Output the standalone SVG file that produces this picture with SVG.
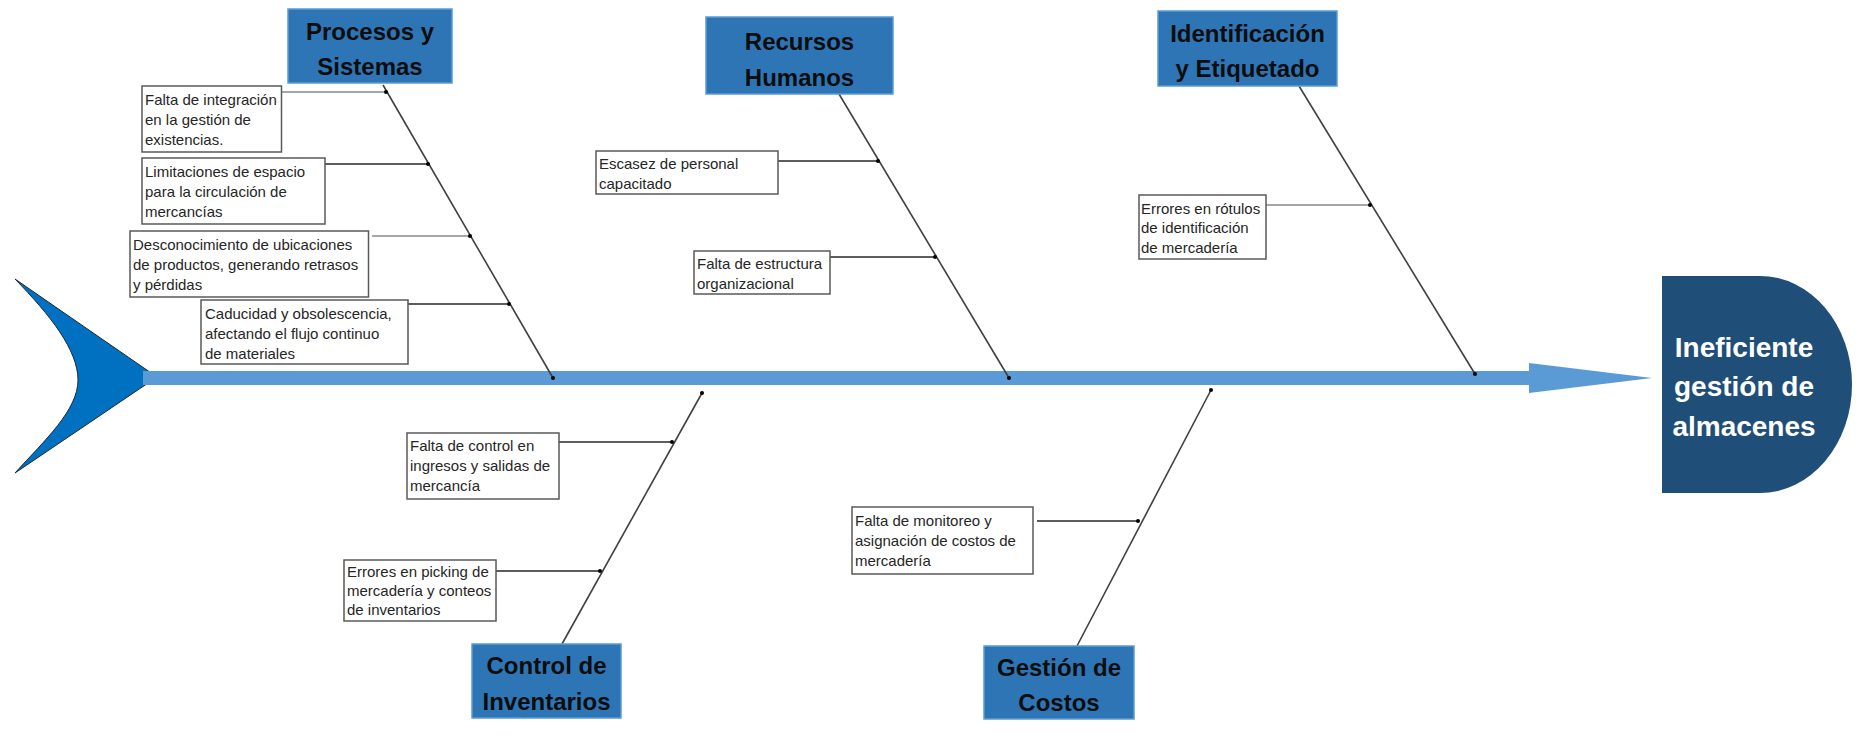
<svg xmlns="http://www.w3.org/2000/svg" width="1856" height="744" viewBox="0 0 1856 744">
<style>
.cat{fill:#2E75B6;stroke:#5B9BD5;stroke-width:1.5}
.cat-t{font-family:"Liberation Sans",Arial,sans-serif;font-weight:bold;font-size:24px;fill:#0d0d0d;text-anchor:middle}
.sub{fill:#ffffff;stroke:#595959;stroke-width:1.5}
.sub-t{font-family:"Liberation Sans",Arial,sans-serif;font-size:15px;fill:#262626}
.bone{stroke:#404040;stroke-width:1.6;fill:none}
.lnk{stroke:#262626;stroke-width:1.6;fill:none;marker-end:url(#dot)}
.lnk-g{stroke:#a6a6a6;stroke-width:2;fill:none;marker-end:url(#dot)}
.head-t{font-family:"Liberation Sans",Arial,sans-serif;font-weight:bold;font-size:28px;fill:#ffffff;text-anchor:middle}
</style>
<defs>
<marker id="dot" viewBox="0 0 6 6" refX="3" refY="3" markerWidth="4" markerHeight="4" markerUnits="userSpaceOnUse"><circle cx="3" cy="3" r="3" fill="#000"/></marker>
</defs>
<rect width="1856" height="744" fill="#ffffff"/>

<g id="tail">
<path d="M15,279 L157,377 L15,473 C45,440 78,410 78,380 C78,350 50,315 15,279 Z" fill="#0070C0" stroke="#1a2a3a" stroke-width="1"/>
</g>

<g id="spine">
<rect x="143" y="371" width="1388" height="14" fill="#5B9BD5"/>
<polygon points="1529,363 1652,378 1529,393" fill="#5B9BD5"/>
</g>

<g id="head">
<path d="M1662,276 H1760 A92,108.5 0 0 1 1760,493 H1662 Z" fill="#1F4E79"/>
<text class="head-t" x="1744" y="357">Ineficiente</text>
<text class="head-t" x="1744" y="396">gestión de</text>
<text class="head-t" x="1744" y="436">almacenes</text>
</g>

<g id="connectors">
<line class="bone" x1="383" y1="85" x2="553" y2="378" marker-end="url(#dot)"/>
<line class="bone" x1="839" y1="94" x2="1009" y2="378" marker-end="url(#dot)"/>
<line class="bone" x1="1299" y1="86" x2="1475" y2="374" marker-end="url(#dot)"/>
<line class="bone" x1="562" y1="644" x2="702" y2="393" marker-end="url(#dot)"/>
<line class="bone" x1="1077" y1="646" x2="1211" y2="390" marker-end="url(#dot)"/>

<line class="lnk-g" x1="282" y1="92" x2="386" y2="92"/>
<line class="lnk" x1="325" y1="164" x2="428" y2="164"/>
<line class="lnk-g" x1="372" y1="236" x2="470" y2="236"/>
<line class="lnk" x1="408" y1="304" x2="509" y2="304"/>
<line class="lnk" x1="778" y1="161" x2="878" y2="161"/>
<line class="lnk" x1="830" y1="257" x2="935" y2="257"/>
<line class="lnk-g" x1="1266" y1="205" x2="1370" y2="205"/>
<line class="lnk" x1="557" y1="442" x2="672" y2="442"/>
<line class="lnk" x1="496" y1="571" x2="600" y2="571"/>
<line class="lnk" x1="1037" y1="521" x2="1138" y2="521"/>
</g>

<g id="cat-procesos">
<rect class="cat" x="288" y="9" width="164" height="74"/>
<text class="cat-t" x="370" y="40">Procesos y</text>
<text class="cat-t" x="370" y="75">Sistemas</text>
</g>
<g id="cat-recursos">
<rect class="cat" x="706" y="17" width="187" height="77"/>
<text class="cat-t" x="799.5" y="50">Recursos</text>
<text class="cat-t" x="799.5" y="86">Humanos</text>
</g>
<g id="cat-identificacion">
<rect class="cat" x="1158" y="11" width="179" height="75"/>
<text class="cat-t" x="1247.5" y="42">Identificación</text>
<text class="cat-t" x="1247.5" y="77">y Etiquetado</text>
</g>
<g id="cat-control">
<rect class="cat" x="472" y="644" width="149" height="74"/>
<text class="cat-t" x="546.5" y="674">Control de</text>
<text class="cat-t" x="546.5" y="710">Inventarios</text>
</g>
<g id="cat-costos">
<rect class="cat" x="984" y="646" width="150" height="73"/>
<text class="cat-t" x="1059" y="676">Gestión de</text>
<text class="cat-t" x="1059" y="711">Costos</text>
</g>

<g id="c1">
<rect class="sub" x="142" y="86" width="139.5" height="66"/>
<text class="sub-t" x="145" y="104.5">Falta de integración</text>
<text class="sub-t" x="145" y="124.5">en la gestión de</text>
<text class="sub-t" x="145" y="144.5">existencias.</text>
</g>
<g id="c2">
<rect class="sub" x="142" y="158" width="183" height="66"/>
<text class="sub-t" x="145" y="176.5">Limitaciones de espacio</text>
<text class="sub-t" x="145" y="196.5">para la circulación de</text>
<text class="sub-t" x="145" y="216.5">mercancías</text>
</g>
<g id="c3">
<rect class="sub" x="130" y="231" width="238.5" height="66"/>
<text class="sub-t" x="133" y="249.5">Desconocimiento de ubicaciones</text>
<text class="sub-t" x="133" y="269.5">de productos, generando retrasos</text>
<text class="sub-t" x="133" y="289.5">y pérdidas</text>
</g>
<g id="c4">
<rect class="sub" x="201" y="300" width="207" height="64"/>
<text class="sub-t" x="205" y="318.5">Caducidad y obsolescencia,</text>
<text class="sub-t" x="205" y="338.5">afectando el flujo continuo</text>
<text class="sub-t" x="205" y="358.5">de materiales</text>
</g>
<g id="c5">
<rect class="sub" x="596" y="151" width="182" height="43"/>
<text class="sub-t" x="599" y="169">Escasez de personal</text>
<text class="sub-t" x="599" y="189">capacitado</text>
</g>
<g id="c6">
<rect class="sub" x="694" y="251" width="136" height="43"/>
<text class="sub-t" x="697" y="269">Falta de estructura</text>
<text class="sub-t" x="697" y="289">organizacional</text>
</g>
<g id="c7">
<rect class="sub" x="1139" y="195" width="127" height="64"/>
<text class="sub-t" x="1141" y="213.5">Errores en rótulos</text>
<text class="sub-t" x="1141" y="233">de identificación</text>
<text class="sub-t" x="1141" y="252.5">de mercadería</text>
</g>
<g id="c8">
<rect class="sub" x="407" y="433" width="152" height="66"/>
<text class="sub-t" x="410" y="451">Falta de control en</text>
<text class="sub-t" x="410" y="471">ingresos y salidas de</text>
<text class="sub-t" x="410" y="491">mercancía</text>
</g>
<g id="c9">
<rect class="sub" x="344" y="560" width="152" height="61"/>
<text class="sub-t" x="347" y="577">Errores en picking de</text>
<text class="sub-t" x="347" y="596">mercadería y conteos</text>
<text class="sub-t" x="347" y="615">de inventarios</text>
</g>
<g id="c10">
<rect class="sub" x="852" y="507" width="181" height="67"/>
<text class="sub-t" x="855" y="526">Falta de monitoreo y</text>
<text class="sub-t" x="855" y="546">asignación de costos de</text>
<text class="sub-t" x="855" y="566">mercadería</text>
</g>
</svg>
